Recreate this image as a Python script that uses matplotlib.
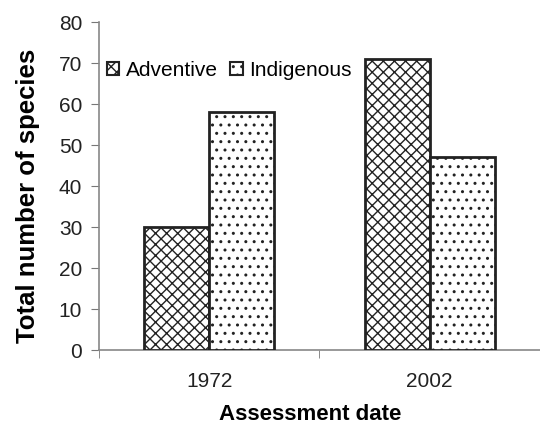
import matplotlib
matplotlib.use("Agg")
import matplotlib.pyplot as plt
import numpy as np
from matplotlib.patches import Patch

plt.rcParams['font.family'] = ['Liberation Sans', 'DejaVu Sans']
plt.rcParams['hatch.linewidth'] = 1.0

categories = ["1972", "2002"]
adventive = [30, 71]
indigenous = [58, 47]
series_names = ["Adventive", "Indigenous"]
yticks = [0, 10, 20, 30, 40, 50, 60, 70, 80]

fig = plt.figure(figsize=(5.4, 4.25), dpi=100)
ax = fig.add_axes([0.183, 0.176, 0.817, 0.772])

x = np.arange(len(categories))
w = 0.295
plt.rcParams['hatch.color'] = '#555555'
b1 = ax.bar(x - w/2, adventive, w, facecolor='white', edgecolor='#222222', linewidth=2, hatch='xxx')
b2 = ax.bar(x + w/2, indigenous, w, facecolor='white', edgecolor='#222222', linewidth=2, hatch='..')
for b in list(b1) + list(b2):
    b.set_zorder(3)

ax.set_xlim(-0.5, 1.5)
ax.set_ylim(0, 80)
ax.set_yticks(yticks)
ax.set_yticklabels([str(t) for t in yticks], fontsize=15, color='#222222')
ax.set_xticks(x)
ax.set_xticklabels(categories, fontsize=15, color='#222222')
ax.tick_params(axis='x', which='major', length=0, pad=16)
ax.set_xticks([-0.5, 0.5, 1.5], minor=True)
ax.tick_params(axis='x', which='minor', length=6, color='#777777', direction='out')
ax.tick_params(axis='y', length=6, color='#777777', direction='out', pad=6)

for s in ['top', 'right']:
    ax.spines[s].set_visible(False)
for s in ['left', 'bottom']:
    ax.spines[s].set_color('#888888')
    ax.spines[s].set_linewidth(1.2)

ax.set_ylabel("Total number of species", fontsize=18.5, fontweight='bold')
ax.yaxis.set_label_coords(-0.133, 0.47)
ax.set_xlabel("Assessment date", fontsize=16, fontweight='bold')
ax.xaxis.set_label_coords(0.48, -0.165)

handles = [Patch(facecolor='white', edgecolor='#222222', hatch='xxx', linewidth=1.5),
           Patch(facecolor='white', edgecolor='#222222', hatch='..', linewidth=1.5)]
ax.legend(handles, series_names, loc='upper left', bbox_to_anchor=(-0.01, 0.92), ncol=2,
          frameon=False, fontsize=15, handlelength=0.6, handleheight=0.6,
          handletextpad=0.3, columnspacing=0.6, borderaxespad=0.2)

fig.savefig("out.png", dpi=100)
